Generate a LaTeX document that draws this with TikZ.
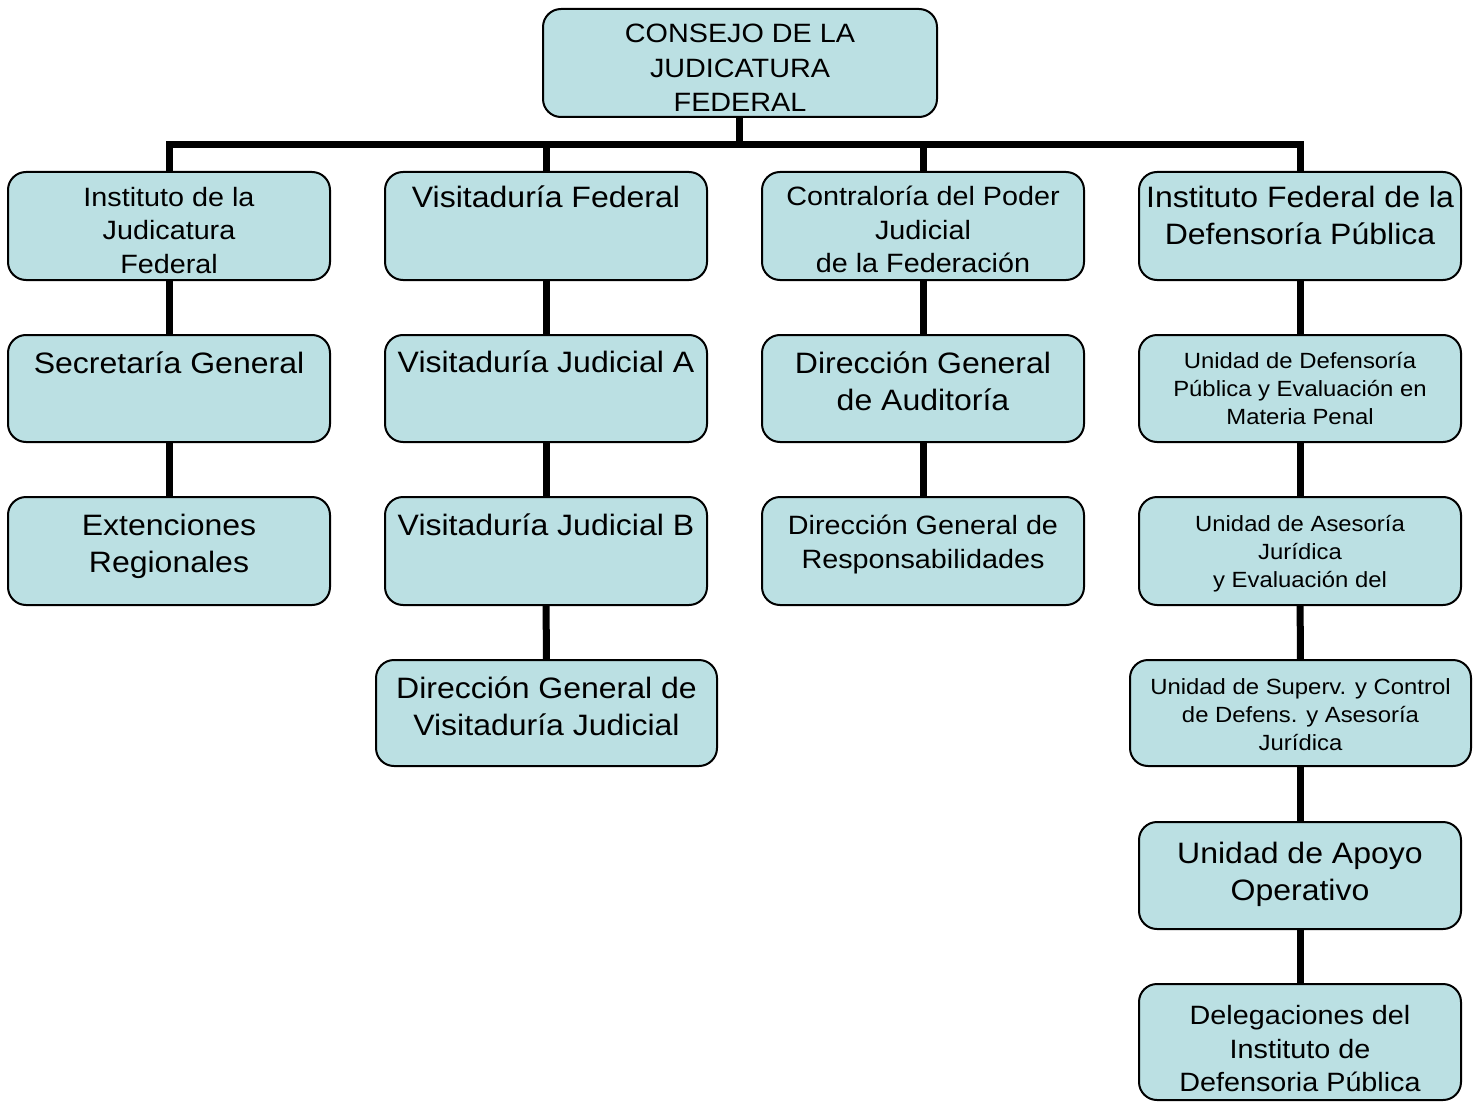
\documentclass[tikz,border=0pt]{standalone}
\usepackage{fontspec}
\setmainfont{Liberation Sans}[FakeStretch=1.085]
\usetikzlibrary{backgrounds}
\definecolor{boxfill}{HTML}{BBE0E3}
\newcommand\myst{\rule{0pt}{0.95em}}
\begin{document}
\begin{tikzpicture}[x=1pt,y=-1pt,
 box/.style={draw=black, line width=2pt, fill=boxfill, rounded corners=18pt, inner sep=0pt},
 conn/.style={line width=7pt, black},
 lbl/.style={anchor=north, align=center, inner sep=0pt},
 big/.style={font=\fontsize{29.5}{36.5}\selectfont},
 med/.style={font=\fontsize{26.5}{33.5}\selectfont},
 sml/.style={font=\fontsize{22}{28}\selectfont}]
\useasboundingbox (0,0) rectangle (1477,1102);

% boxes
\node[box, minimum width=394pt, minimum height=108pt] (top) at (740,63) {};
\node[box, minimum width=322pt, minimum height=108pt] (i1) at (169,226) {};
\node[box, minimum width=322pt, minimum height=108pt] (v1) at (546,226) {};
\node[box, minimum width=322pt, minimum height=108pt] (c1) at (923,226) {};
\node[box, minimum width=322pt, minimum height=108pt] (d1) at (1300,226) {};
\node[box, minimum width=322pt, minimum height=107pt] (s2) at (169,388.5) {};
\node[box, minimum width=322pt, minimum height=107pt] (va) at (546,388.5) {};
\node[box, minimum width=322pt, minimum height=107pt] (da) at (923,388.5) {};
\node[box, minimum width=322pt, minimum height=107pt] (ud) at (1300,388.5) {};
\node[box, minimum width=322pt, minimum height=108pt] (er) at (169,551) {};
\node[box, minimum width=322pt, minimum height=108pt] (vb) at (546,551) {};
\node[box, minimum width=322pt, minimum height=108pt] (dr) at (923,551) {};
\node[box, minimum width=322pt, minimum height=108pt] (ua) at (1300,551) {};
\node[box, minimum width=341pt, minimum height=106pt] (dv) at (546.5,713) {};
\node[box, minimum width=341pt, minimum height=106pt] (us) at (1300.5,713) {};
\node[box, minimum width=322pt, minimum height=107pt] (ao) at (1300,875.5) {};
\node[box, minimum width=322pt, minimum height=116pt] (dl) at (1300,1042) {};

% texts
\node[lbl, font=\fontsize{26.5}{34.5}\selectfont] (t-top) at (740,17.3) {\myst CONSEJO DE LA\\JUDICATURA\\FEDERAL};
\node[lbl, med] (t-i1) at (169,180.8) {\myst Instituto de la\\Judicatura\\Federal};
\node[lbl, big] (t-v1) at (546,179.5) {\myst Visitaduría Federal};
\node[lbl, med] (t-c1) at (923,180.3) {\myst Contraloría del Poder\\Judicial\\de la Federación};
\node[lbl, font=\fontsize{29.5}{37}\selectfont] (t-d1) at (1300,179.5) {\myst Instituto Federal de la\\Defensoría Pública};
\node[lbl, big] (t-s2) at (169,345) {\myst Secretaría General};
\node[lbl, big] (t-va) at (546,344.5) {\myst Visitaduría Judicial A};
\node[lbl, big] (t-da) at (923,345.5) {\myst Dirección General\\de Auditoría};
\node[lbl, sml] (t-ud) at (1300,347) {\myst Unidad de Defensoría\\Pública y Evaluación en\\Materia Penal};
\node[lbl, big] (t-er) at (169,507.5) {\myst Extenciones\\Regionales};
\node[lbl, big] (t-vb) at (546,507.5) {\myst Visitaduría Judicial B};
\node[lbl, med] (t-dr) at (923,509.3) {\myst Dirección General de\\Responsabilidades};
\node[lbl, sml] (t-ua) at (1300,510) {\myst Unidad de Asesoría\\Jurídica\\y Evaluación del};
\node[lbl, big] (t-dv) at (546.5,670.5) {\myst Dirección General de\\Visitaduría Judicial};
\node[lbl, sml] (t-us) at (1300.5,673) {\myst Unidad de Superv. y Control\\de Defens. y Asesoría\\Jurídica};
\node[lbl, big] (t-ao) at (1300,835.5) {\myst Unidad de Apoyo\\Operativo};
\node[lbl, med] (t-dl) at (1300,999.3) {\myst Delegaciones del\\Instituto de\\Defensoria Pública};

% connectors
\begin{pgfonlayer}{background}
\coordinate (bus) at (739,145);
\draw[conn] (top.south -| bus) -- (bus);
\draw[conn] (i1.north) |- (bus) -| (d1.north);
\draw[conn] (v1.north) -- (v1.north |- bus);
\draw[conn] (c1.north) -- (c1.north |- bus);
\draw[conn] (i1) -- (s2);
\draw[conn] (s2) -- (er);
\draw[conn] (v1) -- (va);
\draw[conn] (va) -- (vb);
\draw[conn] (vb) -- (dv);
\draw[conn] (c1) -- (da);
\draw[conn] (da) -- (dr);
\draw[conn] (d1) -- (ud);
\draw[conn] (ud) -- (ua);
\draw[conn] (ua) -- (us);
\draw[conn] (us.center -| ao) -- (ao);
\draw[conn] (ao) -- (dl);
\end{pgfonlayer}
\end{tikzpicture}
\end{document}
